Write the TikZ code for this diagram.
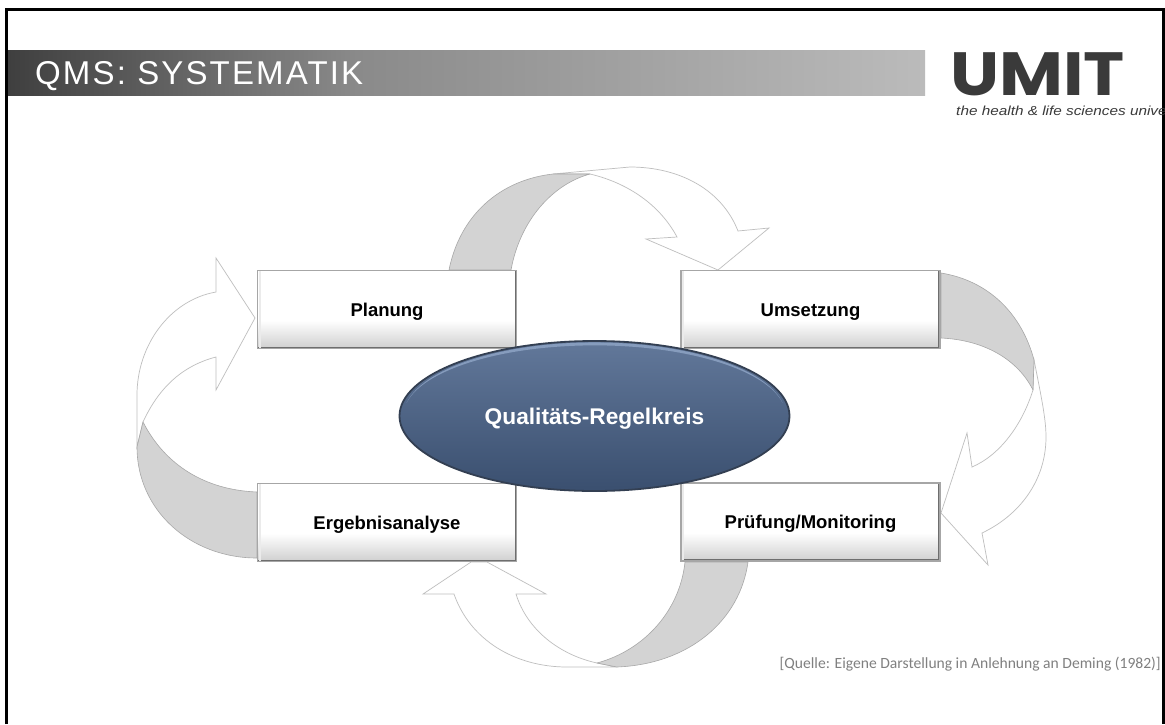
\documentclass[tikz,border=0pt]{standalone}
\usepackage{fontspec}
\setmainfont{Liberation Sans}
\newfontfamily\srcfont{Carlito}
\newfontfamily\logofont{Poppins}
\newfontfamily\titlefont[LetterSpace=6.5]{Liberation Sans}
\usetikzlibrary{shapes.geometric,calc}
\definecolor{bandL}{HTML}{3F3F3F}
\definecolor{bandM}{HTML}{8A8A8A}
\definecolor{bandR}{HTML}{BBBBBB}
\definecolor{boxedge}{HTML}{A6A6A6}
\definecolor{boxdark}{HTML}{6E6E6E}
\definecolor{boxlow}{HTML}{CFCFCF}
\definecolor{graywedge}{HTML}{D3D3D3}
\definecolor{wedgeline}{HTML}{A8A8A8}
\definecolor{headline}{HTML}{BEBEBE}
\definecolor{elltop}{HTML}{62789A}
\definecolor{ellbot}{HTML}{3A4F6F}
\definecolor{ellrim}{HTML}{333F52}
\definecolor{ellhigh}{HTML}{8DA3C4}
\definecolor{logocol}{HTML}{3A3A3A}
\definecolor{srccol}{HTML}{808080}
\pgfdeclarehorizontalshading{bandshade}{100bp}{color(0bp)=(bandL); color(25bp)=(bandL); color(44bp)=(bandM); color(75bp)=(bandR); color(100bp)=(bandR)}
\pgfdeclareverticalshading{boxshade}{100bp}{color(0bp)=(boxlow); color(25bp)=(boxlow); color(43bp)=(white); color(100bp)=(white)}
\pgfdeclareverticalshading{ellshade}{100bp}{color(0bp)=(ellbot); color(25bp)=(ellbot); color(75bp)=(elltop); color(100bp)=(elltop)}
\tikzset{
  stepbox/.style={rectangle, minimum width=259pt, minimum height=78pt, inner sep=0pt,
    draw=boxedge, line width=1.6pt, shading=boxshade, text height=16pt, text depth=3pt,
    font=\fontsize{18.5}{22}\selectfont\bfseries, text=black,
    path picture={
      \draw[boxdark, line width=3.6pt] (path picture bounding box.south west) -- (path picture bounding box.south east) -- (path picture bounding box.north east);
      \draw[white!92!black, line width=2pt] ([shift={(2pt,0pt)}]path picture bounding box.north west) -- ([shift={(2pt,0pt)}]path picture bounding box.south west);
    }},
  wedge/.style={fill=graywedge, draw=wedgeline, line width=0.6pt, line join=round},
  headpart/.style={fill=white, draw=headline, line width=0.7pt, line join=miter},
}
\begin{document}
\begin{tikzpicture}[x=1pt,y=-1pt]
\useasboundingbox (0,0) rectangle (1165,724);
\fill[white] (0,0) rectangle (1165,724);
% slide frame
\draw[black, line width=3pt] (6.5,724) -- (6.5,9.5) -- (1163,9.5) -- (1163,724);
% title band
\shade[shading=bandshade] (8,50) rectangle (925,95);
\node[anchor=base west, inner sep=0pt, text=white, font=\titlefont\fontsize{33}{36}\selectfont] (title) at (35,84.5) {QMS: SYSTEMATIK};
% logo
\node[anchor=base west, inner sep=0pt, text=logocol, xscale=1.14, text height=43pt, text depth=0pt, font=\logofont\fontsize{61}{61}\selectfont\bfseries] (logo) at (950,95) {UMIT};
\node[anchor=base west, inner sep=0pt, text=logocol, xscale=1.17, font=\fontsize{13.1}{15}\selectfont\itshape] (tag) at (956,115) {the health \& life sciences university};

% named end points of the block arrows
\coordinate (tipA) at (718,270);
\coordinate (tipB) at (941,513);
\coordinate (tipD) at (255,318);

% arrow Planung -> Umsetzung
\draw[headpart] (553,174) -- (630,167) .. controls (680,167) and (722,190) .. (738,231) -- (769,228) -- (tipA) -- (646,239) -- (677,237) .. controls (660,205) and (628,183) .. (590,174) -- cycle;
\draw[wedge] (449,270) .. controls (460,215) and (500,180) .. (553,174) -- (590,174) .. controls (553,184) and (520,220) .. (511,270) -- cycle;

% arrow Umsetzung -> Pruefung
\draw[headpart] (1034,360) .. controls (1042,400) and (1046,420) .. (1046,437) .. controls (1046,480) and (1020,515) .. (982,533) -- (988,565) -- (tipB) -- (967,433) -- (972,467) .. controls (1000,455) and (1022,425) .. (1033,390) -- cycle;
\draw[wedge] (941,273) .. controls (990,281) and (1022,315) .. (1034,360) -- (1033,390) .. controls (1018,360) and (985,340) .. (941,338) -- cycle;

% arrow Pruefung -> Ergebnisanalyse
\draw[headpart] (617,667) -- (567,667) .. controls (515,667) and (470,640) .. (454,594) -- (423,594) -- (471,562) -- (487,562) -- (546,594) -- (516,594) .. controls (527,630) and (560,655) .. (597,663) -- cycle;
\draw[wedge] (748,562) .. controls (740,620) and (690,664) .. (617,667) -- (597,663) .. controls (645,650) and (680,610) .. (685,562) -- cycle;

% arrow Ergebnisanalyse -> Planung
\draw[headpart] (137,447) -- (137,395) .. controls (137,345) and (170,300) .. (216,292) -- (216,258) -- (tipD) -- (216,390) -- (216,357) .. controls (185,365) and (160,385) .. (143,422) -- cycle;
\draw[wedge] (137,447) .. controls (137,510) and (190,558) .. (257,558) -- (257,492) .. controls (205,490) and (165,465) .. (143,422) -- cycle;

% boxes
\node[stepbox] (planung) at (387,309.5) {Planung};
\node[stepbox] (umsetzung) at (810.5,309.5) {Umsetzung};
\node[stepbox] (pruefung) at (810.5,522) {Prüfung/Monitoring};
\node[stepbox] (ergebnis) at (387,522.5) {Ergebnisanalyse};

% centre ellipse
\node[ellipse, minimum width=390pt, minimum height=150pt, inner sep=0pt, draw=ellrim, line width=1.8pt, shading=ellshade, text=white, text height=20pt, text depth=4pt, font=\fontsize{22.7}{27}\selectfont\bfseries] (ell) at (594.5,416) {Qualitäts-Regelkreis};
\fill[ellhigh, opacity=0.85] ($(ell.center)+(-188,-12.8)$) arc[start angle=-170, end angle=-10, x radius=191, y radius=73.5] arc[start angle=-10, end angle=-170, x radius=191, y radius=70] -- cycle;

% source
\node[anchor=east, inner sep=0pt, text=srccol, font=\srcfont\fontsize{15.6}{18}\selectfont] (src) at (1161,664) {[Quelle: Eigene Darstellung in Anlehnung an Deming (1982)]};
\end{tikzpicture}
\end{document}
